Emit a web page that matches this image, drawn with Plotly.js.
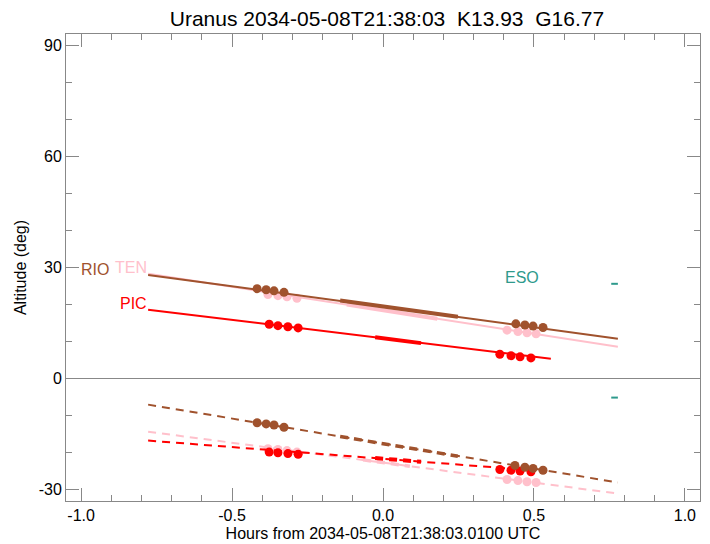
<!DOCTYPE html>
<html>
<head>
<meta charset="utf-8">
<script src="https://cdn.plot.ly/plotly-3.0.1.min.js"></script>
<style>html,body{margin:0;padding:0;background:#fff}#chart{width:710px;height:544px}</style>
</head>
<body>
<div id="chart"></div>
<script>
// ---- data (hours from reference time, altitude in degrees) ----
const rioLineX = [-0.778, 0.778];
const rioLineY = [28.0, 10.8];
const rioThickX = [-0.142, 0.248];
const rioThickY = [21.1, 16.7];
const rioDotX = [-0.417, -0.387, -0.361, -0.328, 0.440, 0.470, 0.497, 0.530];
const rioDotY = [24.3, 24.0, 23.7, 23.3, 14.8, 14.5, 14.2, 13.8];

const tenLineX = [-0.778, 0.778];
const tenLineY = [28.3, 8.6];
const tenThickX = [-0.12, 0.18];
const tenThickY = [20.0, 16.2];
const tenDotX = [-0.381, -0.348, -0.318, -0.285, 0.411, 0.447, 0.477, 0.507];
const tenDotY = [22.7, 22.4, 22.1, 21.7, 13.1, 12.7, 12.4, 12.1];

const picLineX = [-0.778, 0.556];
const picLineY = [18.6, 5.4];
const picThickX = [-0.026, 0.126];
const picThickY = [11.2, 9.6];
const picDotX = [-0.377, -0.348, -0.315, -0.281, 0.387, 0.424, 0.454, 0.490];
const picDotY = [14.7, 14.3, 14.0, 13.7, 6.6, 6.2, 5.9, 5.6];

const rioDashX = [-0.778, 0.778];
const rioDashY = [-7.0, -28.0];
const rioDashThickX = [-0.142, 0.248];
const rioDashThickY = [-15.6, -20.9];
const rioDashDotX = [-0.417, -0.387, -0.361, -0.328, 0.437, 0.470, 0.497, 0.530];
const rioDashDotY = [-11.9, -12.2, -12.5, -13.1, -23.4, -23.9, -24.2, -24.7];

const tenDashX = [-0.778, 0.778];
const tenDashY = [-14.3, -31.0];
const tenDashThickX = [-0.066, 0.089];
const tenDashThickY = [-21.9, -23.6];
const tenDashDotX = [-0.381, -0.348, -0.318, -0.285, 0.411, 0.447, 0.477, 0.507];
const tenDashDotY = [-18.9, -19.1, -19.4, -19.8, -27.2, -27.5, -27.8, -28.0];

const picDashX = [-0.778, 0.556];
const picDashY = [-16.7, -25.1];
const picDashThickX = [-0.026, 0.126];
const picDashThickY = [-21.4, -22.4];
const picDashDotX = [-0.377, -0.348, -0.315, -0.281, 0.387, 0.424, 0.454, 0.490];
const picDashDotY = [-19.8, -20.0, -20.2, -20.4, -24.5, -24.7, -24.9, -25.1];

const esoMarkX = [0.756, 0.778];
const esoMarkY1 = [25.6, 25.6];
const esoMarkY2 = [-5.1, -5.1];

const siteNames = ['RIO', 'TEN', 'PIC', 'ESO'];
const labelX = [-0.90, -0.775, -0.775, 0.46];
const labelY = [29.4, 29.9, 20.2, 27.2];
const labelAnchor = ['right', 'right', 'right', 'center'];

const titleText = 'Uranus 2034-05-08T21:38:03  K13.93  G16.77';
const xTitleText = 'Hours from 2034-05-08T21:38:03.0100 UTC';
const yTitleText = 'Altitude (deg)';
const xTickVals = [-1.0, -0.5, 0.0, 0.5, 1.0];
const xTickText = ['-1.0', '-0.5', '0.0', '0.5', '1.0'];
const yTickVals = [-30, 0, 30, 60, 90];
const yTickText = ['-30', '0', '30', '60', '90'];

// ---- styles ----
const C_RIO = '#a0522d', C_TEN = '#ffc0cb', C_PIC = '#ff0000', C_ESO = '#2e9a8c';
const siteColors = [C_RIO, C_TEN, C_PIC, C_ESO];

function line(x, y, color, width, dash) {
  return {x: x, y: y, mode: 'lines', type: 'scatter', hoverinfo: 'skip',
          line: {color: color, width: width, dash: dash || 'solid'}, showlegend: false};
}
function dots(x, y, color) {
  return {x: x, y: y, mode: 'markers', type: 'scatter', hoverinfo: 'skip',
          marker: {color: color, size: 9, line: {width: 0}}, showlegend: false};
}
const DASH = '8px,6px';
const traces = [
  line(tenDashX, tenDashY, C_TEN, 2, DASH),
  line(tenDashThickX, tenDashThickY, C_TEN, 3.5, DASH),
  dots(tenDashDotX, tenDashDotY, C_TEN),
  line(picDashX, picDashY, C_PIC, 2, DASH),
  line(picDashThickX, picDashThickY, C_PIC, 4, DASH),
  dots(picDashDotX, picDashDotY, C_PIC),
  line(rioDashX, rioDashY, C_RIO, 2, DASH),
  line(rioDashThickX, rioDashThickY, C_RIO, 3.5, DASH),
  dots(rioDashDotX, rioDashDotY, C_RIO),
  line(tenLineX, tenLineY, C_TEN, 2),
  line(tenThickX, tenThickY, C_TEN, 4),
  dots(tenDotX, tenDotY, C_TEN),
  line(rioLineX, rioLineY, C_RIO, 2),
  line(rioThickX, rioThickY, C_RIO, 4),
  dots(rioDotX, rioDotY, C_RIO),
  line(picLineX, picLineY, C_PIC, 2),
  line(picThickX, picThickY, C_PIC, 4),
  dots(picDotX, picDotY, C_PIC),
  line(esoMarkX, esoMarkY1, C_ESO, 2),
  line(esoMarkX, esoMarkY2, C_ESO, 2)
];

const annotations = siteNames.map((n, i) => ({
  x: labelX[i], y: labelY[i], xref: 'x', yref: 'y', text: n, showarrow: false,
  xanchor: labelAnchor[i], yanchor: 'middle',
  font: {family: 'Liberation Sans, Arial, sans-serif', size: 16, color: siteColors[i]}
}));

const AX = '#888888';
const FONT = 'Liberation Sans, Arial, sans-serif';
const layout = {
  width: 710, height: 544,
  margin: {l: 66, r: 10, t: 34, b: 43},
  paper_bgcolor: '#ffffff', plot_bgcolor: '#ffffff',
  font: {family: FONT, size: 16, color: '#000'},
  title: {text: titleText, x: 0.545, xanchor: 'center', y: 0.965, yanchor: 'middle',
          font: {family: FONT, size: 21, color: '#000'}},
  xaxis: {
    range: [-1.05, 1.05], tickvals: xTickVals, ticktext: xTickText,
    ticks: 'inside', ticklen: 13, tickcolor: AX, tickwidth: 1,
    showline: true, linecolor: AX, linewidth: 1, mirror: 'ticks',
    showgrid: false, zeroline: false,
    minor: {dtick: 0.1, ticks: 'inside', ticklen: 6, tickcolor: AX, showgrid: false},
    tickfont: {family: FONT, size: 16, color: '#000'},
    title: {text: xTitleText, standoff: 4, font: {family: FONT, size: 16, color: '#000'}}
  },
  yaxis: {
    range: [-33, 93], tickvals: yTickVals, ticktext: yTickText,
    ticks: 'inside', ticklen: 13, tickcolor: AX, tickwidth: 1,
    showline: true, linecolor: AX, linewidth: 1, mirror: 'ticks',
    showgrid: false, zeroline: true, zerolinecolor: AX, zerolinewidth: 1,
    minor: {dtick: 10, ticks: 'inside', ticklen: 6, tickcolor: AX, showgrid: false},
    tickfont: {family: FONT, size: 16, color: '#000'},
    title: {text: yTitleText, standoff: 8, font: {family: FONT, size: 16, color: '#000'}}
  },
  annotations: annotations
};

Plotly.newPlot('chart', traces, layout, {staticPlot: true, displayModeBar: false});
</script>
</body>
</html>
